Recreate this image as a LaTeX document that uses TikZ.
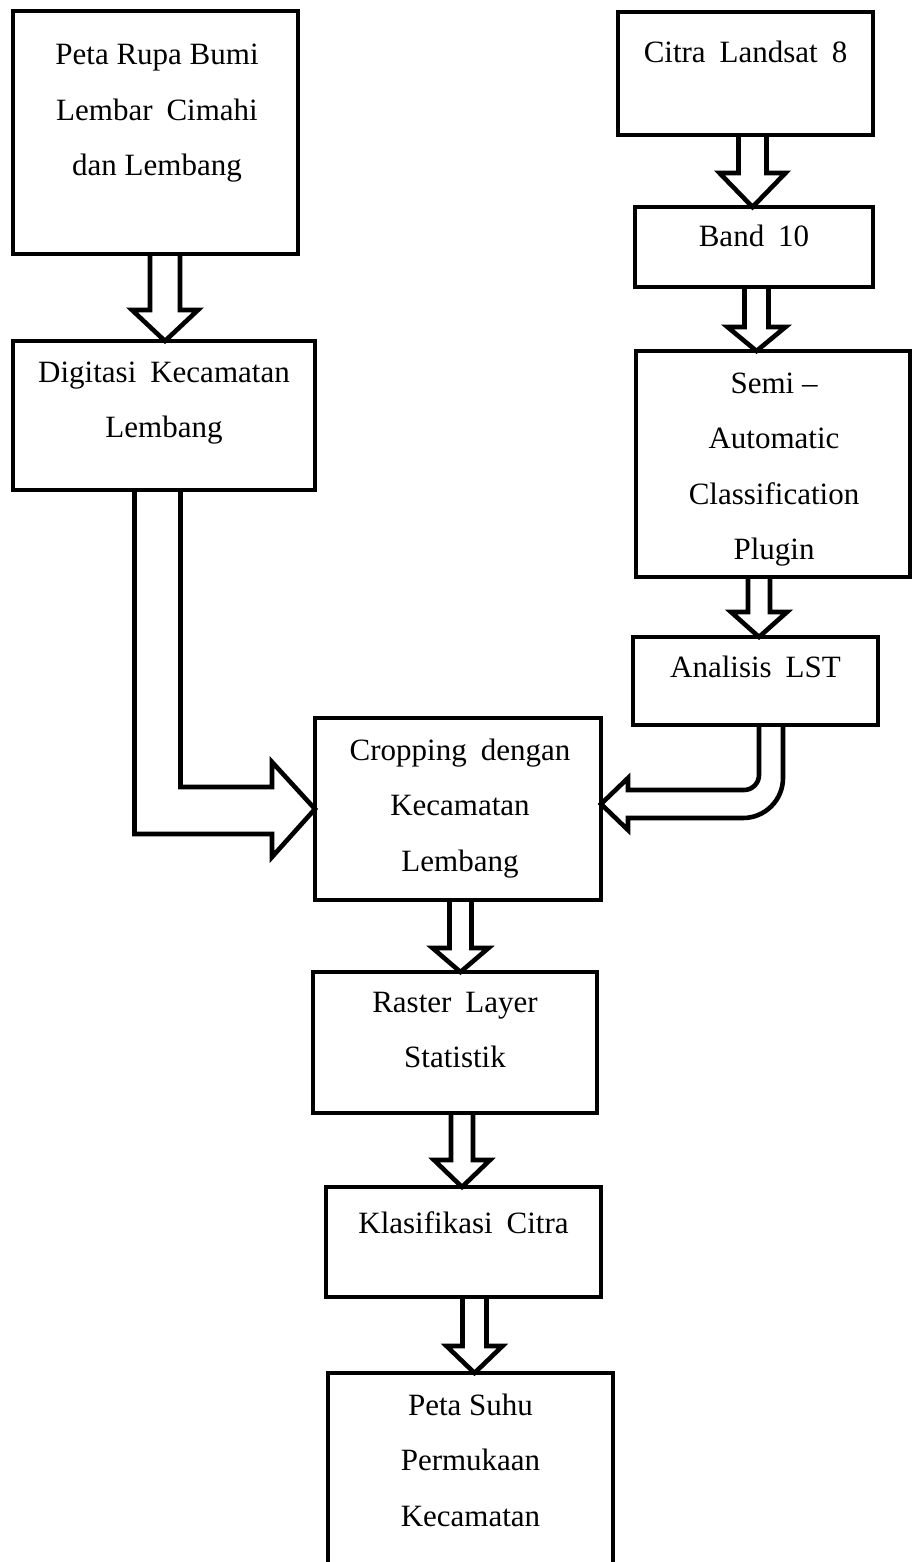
\documentclass[tikz,border=0pt]{standalone}
\usepackage{fontspec}
\setmainfont{Liberation Serif}
\usetikzlibrary{calc}
\tikzset{
  box/.style={draw, line width=4.6pt, rectangle, inner sep=0pt, outer sep=0pt},
  txt/.style={align=center, font=\fontsize{31}{55.5}\selectfont, inner sep=0pt, anchor=base},
  barrow/.style={draw, line width=4.6pt, line join=miter, miter limit=10}
}
% from, to, x centre, shaft half width, head half width, head length
\newcommand\DArrow[6]{%
  \draw[barrow] let \p1=(#1.south), \p2=(#2.north) in
    (#3pt-#4pt,\y1) -- (#3pt-#4pt,\y2+#6pt) -- (#3pt-#5pt,\y2+#6pt) -- (#3pt,\y2)
    -- (#3pt+#5pt,\y2+#6pt) -- (#3pt+#4pt,\y2+#6pt) -- (#3pt+#4pt,\y1);
}
\newcommand\wsp{\hspace{0.45em}}
\begin{document}
\begin{tikzpicture}[x=1pt,y=1pt]
\useasboundingbox (0,0) rectangle (912,-1562);
\clip (0,0) rectangle (912,-1562);

% boxes
\node[box, minimum width=285pt, minimum height=243pt] (b1) at (155.5,-132.5) {};
\node[box, minimum width=302pt, minimum height=149pt] (b2) at (164,-415.5) {};
\node[box, minimum width=255pt, minimum height=123pt] (b3) at (745.5,-73.5) {};
\node[box, minimum width=238pt, minimum height=80pt] (b4) at (754,-247) {};
\node[box, minimum width=274pt, minimum height=226pt] (b5) at (773,-464) {};
\node[box, minimum width=245pt, minimum height=88pt] (b6) at (755.5,-681) {};
\node[box, minimum width=286pt, minimum height=182pt] (b7) at (458,-809) {};
\node[box, minimum width=284pt, minimum height=141pt] (b8) at (455,-1042.5) {};
\node[box, minimum width=275pt, minimum height=110pt] (b9) at (463.5,-1242) {};
\node[box, minimum width=285pt, minimum height=300pt] (b10) at (470.5,-1523) {};

% texts (anchored at the baseline of the last line)
\node[txt] (t1) at (157,-176) {Peta Rupa Bumi\\Lembar\wsp Cimahi\\dan Lembang};
\node[txt] (t2) at (164,-437.5) {Digitasi\wsp Kecamatan\\Lembang};
\node[txt] (t3) at (745.5,-63) {Citra\wsp Landsat\wsp 8};
\node[txt] (t4) at (754,-247) {Band\wsp 10};
\node[txt] (t5) at (774,-559.5) {Semi –\\Automatic\\Classification\\Plugin};
\node[txt] (t6) at (755.5,-677) {Analisis\wsp LST};
\node[txt] (t7) at (460,-871) {Cropping\wsp dengan\\Kecamatan\\Lembang};
\node[txt] (t8) at (455,-1067.5) {Raster\wsp Layer\\Statistik};
\node[txt] (t9) at (463.5,-1233) {Klasifikasi\wsp Citra};
\node[txt] (t10) at (470.5,-1526) {Peta Suhu\\Permukaan\\Kecamatan};

% straight block arrows
\DArrow{b1}{b2}{165}{15}{33}{31}
\DArrow{b3}{b4}{752.5}{14}{33}{34}
\DArrow{b4}{b5}{756.5}{12}{29}{24}
\DArrow{b5}{b6}{759}{11}{28}{25}
\DArrow{b7}{b8}{460.5}{11}{28}{24}
\DArrow{b8}{b9}{462}{11}{28}{27}
\DArrow{b9}{b10}{474.5}{12}{28}{27}

% elbow arrow from Digitasi to Cropping
\draw[barrow] let \p1=(b2.south), \p2=(b7.west) in
  (134.5pt,\y1) -- (134.5pt,\y2-25pt) -- (\x2-43pt,\y2-25pt) -- (\x2-43pt,\y2-48pt)
  -- (\x2,\y2) -- (\x2-43pt,\y2+47pt) -- (\x2-43pt,\y2+22pt) -- (180.5pt,\y2+22pt)
  -- (180.5pt,\y1);

% curved arrow from Analisis LST to Cropping
\draw[barrow] let \p1=(b6.south), \p2=($(b7.east)+(0,5)$) in
  (759pt,\y1) -- (759pt,\y2+29pt) arc[start angle=0,end angle=-90,radius=15pt]
  -- (\x2+27pt,\y2+14pt) -- (\x2+27pt,\y2+26pt) -- (\x2,\y2)
  -- (\x2+27pt,\y2-26pt) -- (\x2+27pt,\y2-14pt) -- (743pt,\y2-14pt)
  arc[start angle=-90,end angle=0,radius=40pt] -- (783pt,\y1);
\end{tikzpicture}
\end{document}
